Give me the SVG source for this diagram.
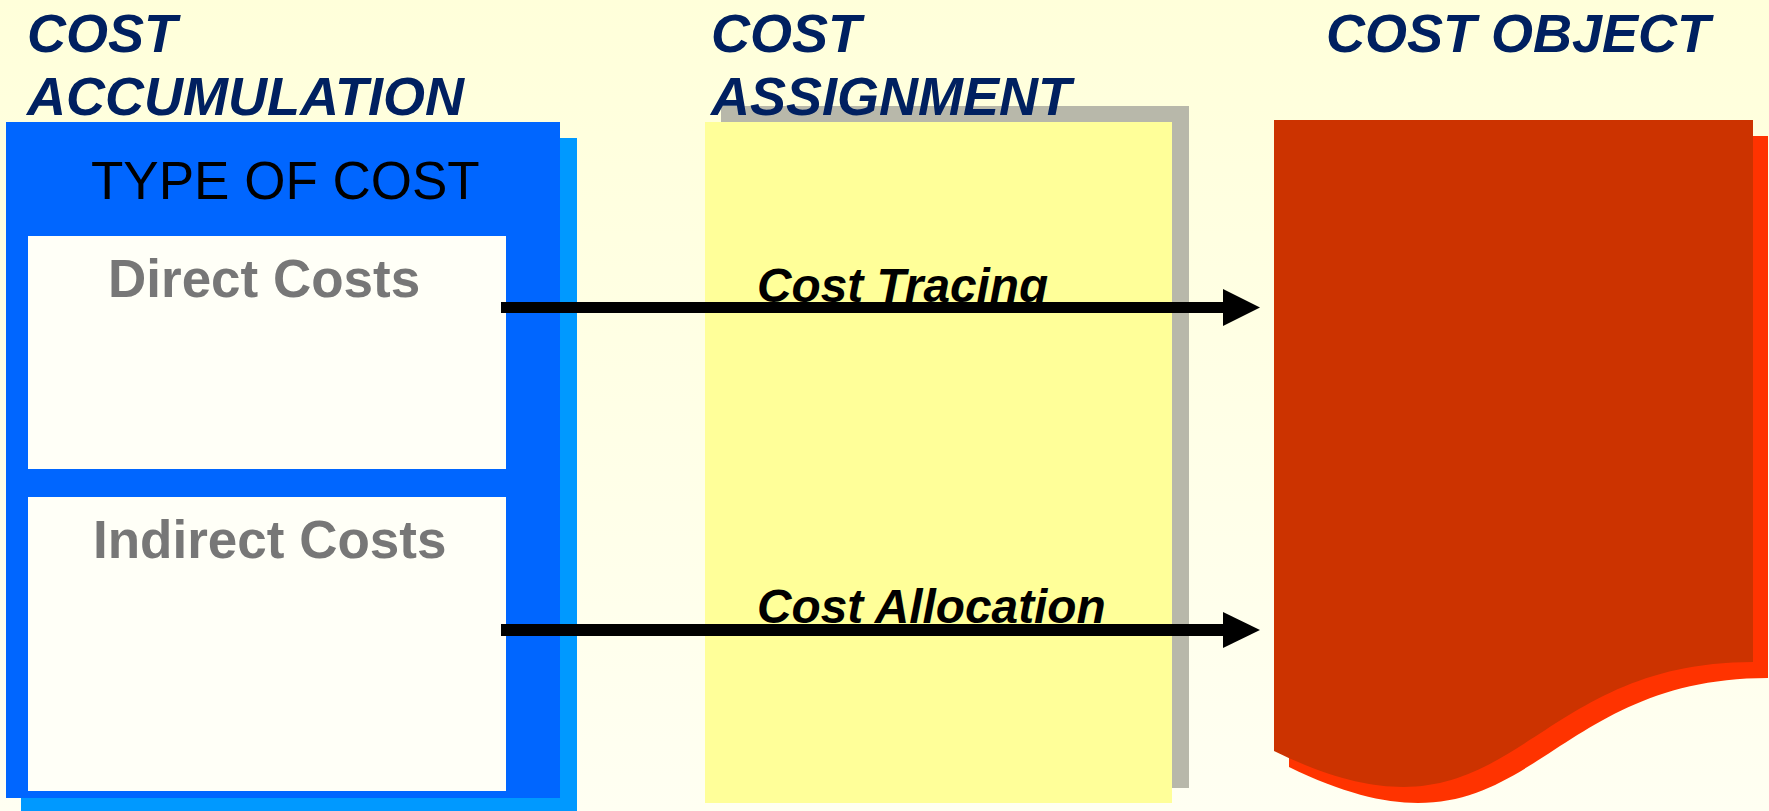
<svg xmlns="http://www.w3.org/2000/svg" width="1769" height="811" viewBox="0 0 1769 811">
  <defs>
    <linearGradient id="bg" x1="0" y1="0" x2="0" y2="1">
      <stop offset="0" stop-color="#FFFFDA"/>
      <stop offset="1" stop-color="#FFFFF2"/>
    </linearGradient>
    <style>
      .hdr { font-family: "Liberation Sans", Arial, sans-serif; font-weight: bold; font-style: italic; font-size: 54px; fill: #002060; }
      .box { font-family: "Liberation Sans", Arial, sans-serif; font-weight: bold; font-size: 53px; fill: #777777; }
      .lbl { font-family: "Liberation Sans", Arial, sans-serif; font-weight: bold; font-style: italic; font-size: 47.8px; fill: #000000; }
      .conn { fill: #000000; }
    </style>
  </defs>
  <rect x="0" y="0" width="1769" height="811" fill="url(#bg)"/>

  <g id="type-of-cost">
    <rect x="21" y="138" width="556" height="680" fill="#0099FF"/>
    <rect x="6" y="122" width="554" height="676" fill="#0066FF"/>
    <text x="91" y="199" font-family="Liberation Sans, Arial, sans-serif" font-size="53" fill="#000000">TYPE OF COST</text>
  </g>
  <g id="direct-costs">
    <rect x="28" y="236" width="478" height="233" fill="#FFFFF7"/>
    <text class="box" x="108" y="297">Direct Costs</text>
  </g>
  <g id="indirect-costs">
    <rect x="28" y="497" width="478" height="294" fill="#FFFFF7"/>
    <text class="box" x="93" y="558">Indirect Costs</text>
  </g>

  <g id="cost-assignment">
    <rect x="721" y="106" width="468" height="682" fill="#B8B8AA"/>
    <rect x="705" y="122" width="467" height="681" fill="#FFFF99"/>
  </g>

  <g id="cost-object">
    <path transform="translate(15,16)" d="M1274,120 H1753 V662 C1513.5,662 1513.5,868 1274,751 Z" fill="#FF3300"/>
    <path d="M1274,120 H1753 V662 C1513.5,662 1513.5,868 1274,751 Z" fill="#CC3300"/>
  </g>

  <g id="header-accumulation">
    <text class="hdr" x="27" y="52">COST</text>
    <text class="hdr" x="27" y="115">ACCUMULATION</text>
  </g>
  <g id="header-assignment">
    <text class="hdr" x="711" y="52">COST</text>
    <text class="hdr" x="711" y="115">ASSIGNMENT</text>
  </g>
  <g id="header-object">
    <text class="hdr" x="1326" y="52">COST OBJECT</text>
  </g>

  <g id="connectors">
    <text class="lbl" x="757" y="302">Cost Tracing</text>
    <rect class="conn" x="501" y="302" width="723" height="11"/>
    <polygon class="conn" points="1223,289 1260,307.5 1223,326"/>
    <text class="lbl" x="757" y="623">Cost Allocation</text>
    <rect class="conn" x="501" y="624" width="723" height="12"/>
    <polygon class="conn" points="1223,612 1260,630 1223,648"/>
  </g>
</svg>
